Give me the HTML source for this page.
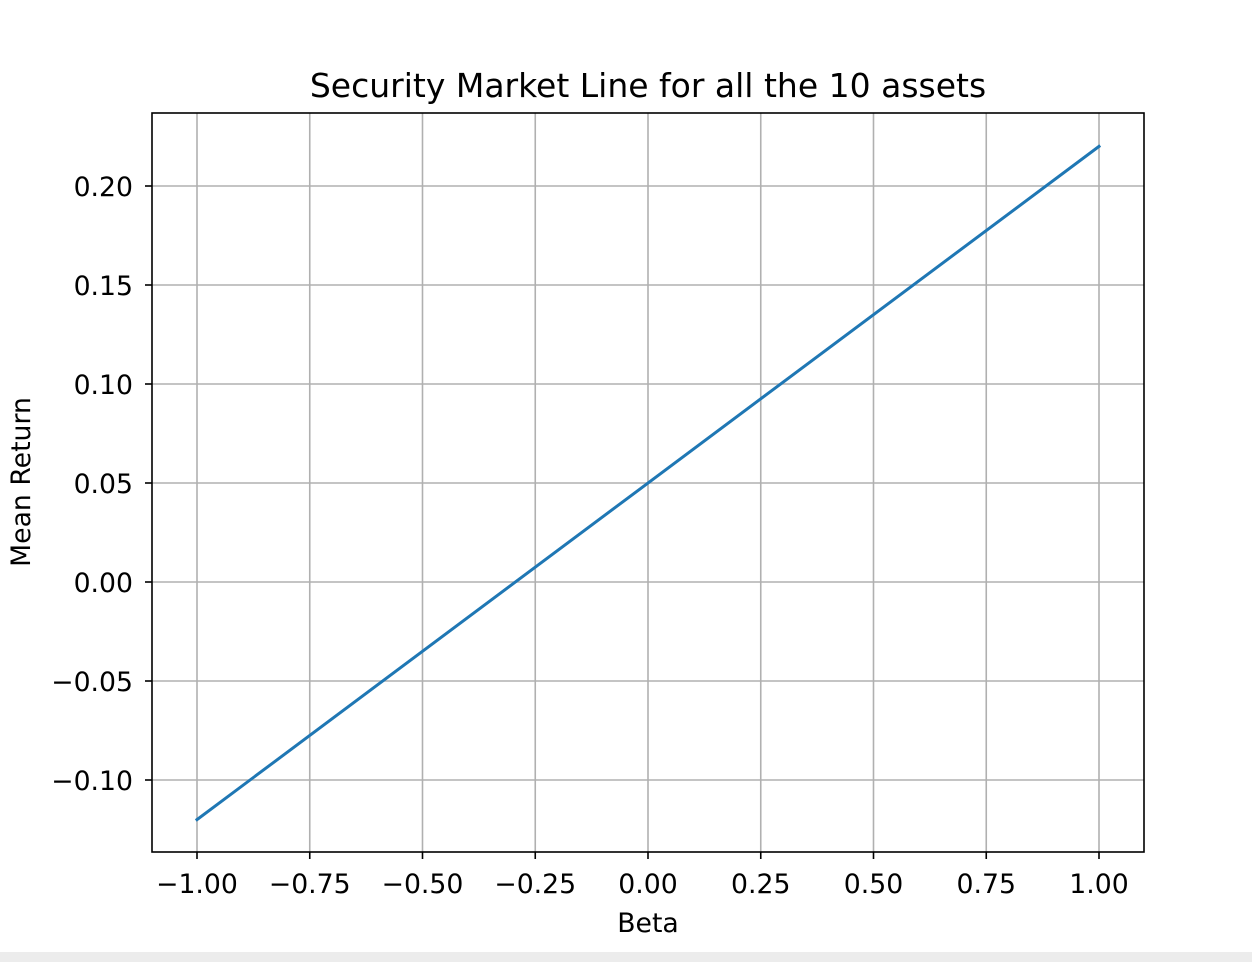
<!DOCTYPE html>
<html><head><meta charset="utf-8"><style>
html,body{margin:0;padding:0;background:#fff;width:1252px;height:962px;overflow:hidden;}
svg text{font-family:"DejaVu Sans","Liberation Sans",sans-serif;fill:#000;}
</style></head><body>
<svg id="chart" width="1252" height="962" xmlns="http://www.w3.org/2000/svg">
<rect x="0" y="952" width="1252" height="10" fill="#ececec"/>
<text x="648" y="97" font-size="33" text-anchor="middle">Security Market Line for all the 10 assets</text>
<text x="648" y="932" font-size="26.7" text-anchor="middle">Beta</text>
<text transform="translate(30,482) rotate(-90)" font-size="26.7" text-anchor="middle">Mean Return</text>
<g id="grid"></g>
<g id="plot"></g>
<rect x="152" y="113" width="992" height="739" fill="none" stroke="#000" stroke-width="1.6"/>
<g id="ticks"></g>
</svg>
<script>
const xTicks = [-1.00, -0.75, -0.50, -0.25, 0.00, 0.25, 0.50, 0.75, 1.00];
const xTickLabels = ["\u22121.00","\u22120.75","\u22120.50","\u22120.25","0.00","0.25","0.50","0.75","1.00"];
const yTicks = [-0.10, -0.05, 0.00, 0.05, 0.10, 0.15, 0.20];
const yTickLabels = ["\u22120.10","\u22120.05","0.00","0.05","0.10","0.15","0.20"];
const betas = [-1.00, 1.00];
const returns = [-0.12, 0.22];

const NS = "http://www.w3.org/2000/svg";
function xs(v){ return 197 + (v + 1) * 451; }
function ys(v){ return 582 - v * 1980; }
const grid = document.getElementById('grid');
const ticks = document.getElementById('ticks');
const plot = document.getElementById('plot');
function mk(tag, attrs, parent){ const e=document.createElementNS(NS,tag); for(const k in attrs) e.setAttribute(k,attrs[k]); parent.appendChild(e); return e; }

xTicks.forEach((v,i)=>{
  const x = xs(v);
  const g = mk('line',{x1:x,x2:x,y1:113,y2:852,stroke:'#b0b0b0','stroke-width':1.6},grid);
  
  
  const t = mk('line',{x1:x,x2:x,y1:852,y2:859,stroke:'#000','stroke-width':1.6},ticks);
  
  
  const l = mk('text',{x:x,y:893,'font-size':26.7,'text-anchor':'middle'},ticks);
  l.textContent = xTickLabels[i];
  
  
});
yTicks.forEach((v,i)=>{
  const y = ys(v);
  const g = mk('line',{x1:152,x2:1144,y1:y,y2:y,stroke:'#b0b0b0','stroke-width':1.6},grid);
  
  
  const t = mk('line',{x1:145,x2:152,y1:y,y2:y,stroke:'#000','stroke-width':1.6},ticks);
  
  
  const l = mk('text',{x:133,y:y+10,'font-size':26.7,'text-anchor':'end'},ticks);
  l.textContent = yTickLabels[i];
  
  
});
const pts = betas.map((b,i)=>xs(b)+','+ys(returns[i])).join(' ');
const line = mk('polyline',{points:pts,fill:'none',stroke:'#1f77b4','stroke-width':3,'stroke-linecap':'square'},plot);


</script>
</body></html>
